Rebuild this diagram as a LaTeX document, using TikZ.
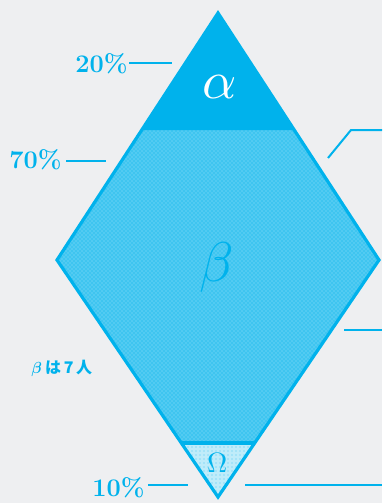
\documentclass[tikz,border=0pt]{standalone}
\usepackage{fontspec}
\usepackage{unicode-math}
\newfontfamily\jpfont{Noto Sans CJK JP}
\usetikzlibrary{patterns}
\definecolor{skyb}{RGB}{0,178,236}
\definecolor{bgray}{RGB}{238,239,241}
\tikzset{
  leader/.style={draw=skyb, line width=1.5pt},
  pct/.style={text=skyb, inner sep=0.75pt, font=\fontsize{19}{19}\selectfont\bfseries},
}

\begin{document}
\begin{tikzpicture}[x=0.75pt,y=0.75pt,yscale=-1,xscale=1]
	\useasboundingbox (0,0) rectangle (382,503);
	\fill[bgray] (0,0) rectangle (382,503);
	
	%Shape: beta band
	\fill[skyb!68!white] (142,130) -- (294,130) -- (379,260) -- (255,443) -- (181,443) -- (57,260) -- cycle ;
	\fill[pattern=crosshatch dots, pattern color=skyb] (142,130) -- (294,130) -- (379,260) -- (255,443) -- (181,443) -- (57,260) -- cycle ;
	%Shape: alpha tip
	\fill[skyb] (218,13) -- (294,130) -- (142,130) -- cycle ;
	%Shape: omega tip
	\fill[skyb!25!white] (181,443) -- (255,443) -- (218,497) -- cycle ;
	\fill[pattern=dots, pattern color=skyb!70] (181,443) -- (255,443) -- (218,497) -- cycle ;
	%Shape: outline
	\draw[skyb, line width=2.4pt, line join=miter] (218,13) -- (379,260) -- (218,497) -- (57,260) -- cycle ;
	\draw[skyb, line width=2.4pt] (181,443) -- (255,443) ;
	
	% Text Node
	\node (alpha) at (220,87) {\color{white}\fontsize{40}{40}\selectfont$\alpha$};
	% Text Node
	\node (beta) at (216,267) {\color{skyb}\fontsize{42}{42}\selectfont$\beta$};
	% Text Node
	\node (omega) at (218,463) {\color{skyb}\fontsize{21}{21}\selectfont$\Omega$};
	
	% Text Node
	\node[pct, anchor=east] (p20) at (129,64) {20\%};
	\coordinate (e20) at (172,63);
	\draw[leader] (p20.east |- e20) -- (e20);
	% Text Node
	\node[pct, anchor=east] (p70) at (63,160) {70\%};
	\coordinate (e70) at (106,161);
	\draw[leader] (p70.east |- e70) ++(3,0) -- (e70);
	% Text Node
	\node[pct, anchor=east] (p10) at (146,488) {10\%};
	\coordinate (e10) at (188,485);
	\draw[leader] (p10.east |- e10) ++(2,0) -- (e10);
	
	%Straight Lines: right leaders
	\coordinate (ra) at (328,158);
	\coordinate (rb) at (351,130);
	\coordinate (rc) at (382,130);
	\draw[leader] (ra) -- (rb) -- (rc) ;
	\coordinate (rd) at (344,330);
	\coordinate (re) at (382,330);
	\draw[leader] (rd) -- (re) ;
	\coordinate (rf) at (245,485);
	\coordinate (rg) at (382,485);
	\draw[leader] (rf) -- (rg) ;
	
	% Text Node
	\node[text=skyb, inner sep=0.75pt] (note) at (62,368) {\jpfont\bfseries\fontsize{12}{12}\selectfont$\symbfit{\beta}$\,は\,7\,人};
\end{tikzpicture}
\end{document}
